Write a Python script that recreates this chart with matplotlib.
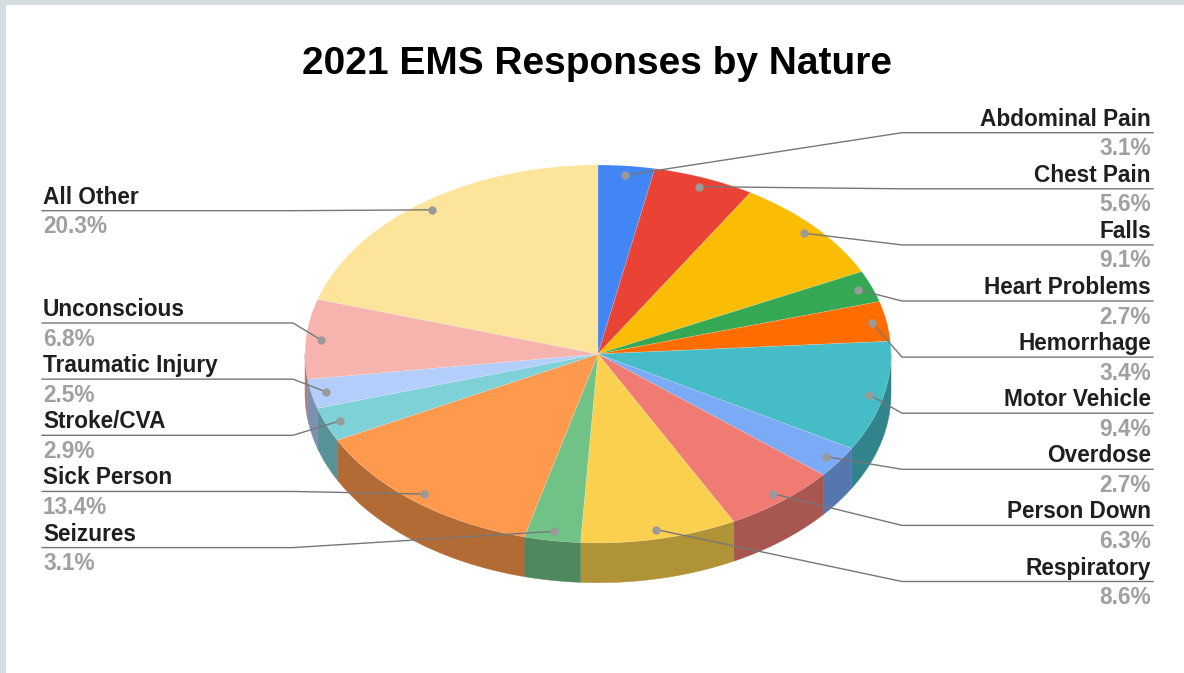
import numpy as np
import matplotlib.pyplot as plt
from matplotlib.patches import Polygon, Rectangle

# Data
labels = ["Abdominal Pain", "Chest Pain", "Falls", "Heart Problems", "Hemorrhage",
          "Motor Vehicle", "Overdose", "Person Down", "Respiratory", "Seizures",
          "Sick Person", "Stroke/CVA", "Traumatic Injury", "Unconscious", "All Other"]
shares = [3.1, 5.6, 9.1, 2.7, 3.4, 9.4, 2.7, 6.3, 8.6, 3.1, 13.4, 2.9, 2.5, 6.8, 20.3]
colors = ["#4285f4", "#ea4335", "#fbbc04", "#34a853", "#ff6d01", "#46bdc6", "#7baaf7",
          "#f07b72", "#fcd04f", "#71c287", "#ff994d", "#7ed1d7", "#b3cefb", "#f7b4ae",
          "#fde49b"]
# which side the label sits on, and its slot (row) on that side
right_side = labels[:9]
left_slots = {"All Other": 0, "Unconscious": 2, "Traumatic Injury": 3,
              "Stroke/CVA": 4, "Sick Person": 5, "Seizures": 6}

W, H = 1184, 673
cx, cy, rx, ry = 598, 354, 293, 189
depth = 0.21

plt.rcParams['font.family'] = ['Liberation Sans', 'DejaVu Sans']
fig = plt.figure(figsize=(W / 100, H / 100), dpi=100)
fig.patch.set_facecolor("#d6dde1")
fig.patches.append(Rectangle((6 / W, 0), 1, 1 - 5 / H, transform=fig.transFigure,
                             facecolor="white", edgecolor="none", zorder=-1))

# pie axes: one data unit = rx px horizontally, ry px vertically
pax = fig.add_axes([0, 0, 1, 1])
pax.patch.set_alpha(0)
wedges, _ = pax.pie(shares, colors=colors, startangle=90, counterclock=False,
                    radius=1, center=(0, 0),
                    wedgeprops=dict(edgecolor=(1, 1, 1, 0.18), linewidth=0.5))
pax.set_aspect("auto")
pax.set_xlim(-cx / rx, (W - cx) / rx)
pax.set_ylim((cy - H) / ry, cy / ry)
pax.axis("off")

# side walls for the front half
total = sum(shares)
edges = np.concatenate([[0], np.cumsum(shares)]) / total * 360
for i in range(len(shares)):
    a, b = max(edges[i], 90), min(edges[i + 1], 270)
    if b <= a:
        continue
    t = np.radians(np.linspace(a, b, 60))
    top = np.column_stack([np.sin(t), np.cos(t)])
    bot = np.column_stack([np.sin(t), np.cos(t) - depth])[::-1]
    dark = tuple(0.7 * c for c in plt.matplotlib.colors.to_rgb(colors[i]))
    pax.add_patch(Polygon(np.vstack([top, bot]), closed=True, facecolor=dark,
                          edgecolor=dark, lw=0.3, zorder=0.5))

# overlay axes in pixels for labels and leaders
ax = fig.add_axes([0, 0, 1, 1])
ax.patch.set_alpha(0)
ax.set_xlim(0, W)
ax.set_ylim(H, 0)
ax.axis("off")

ax.text(597, 74, "2021 EMS Responses by Nature", ha="center", va="baseline",
        fontsize=28, fontweight="bold", color="#000000")

mids = (edges[:-1] + edges[1:]) / 2
line_col = "#777777"
for i, name in enumerate(labels):
    th = np.radians(mids[i])
    dx = cx + 0.95 * rx * np.sin(th)
    dy = cy - 0.95 * ry * np.cos(th)
    if name in right_side:
        ly = 132.7 + 56.1 * right_side.index(name)
        ax.plot([dx, 902, 1153], [dy, ly, ly], color=line_col, lw=1.0, zorder=3)
        tx, ha = 1151, "right"
    else:
        ly = 210.7 + 56.15 * left_slots[name]
        ax.plot([42, 293, dx], [ly, ly, dy], color=line_col, lw=1.0, zorder=3)
        tx, ha = 43, "left"
    ax.plot(dx, dy, "o", ms=5, color="#9a9a9a", zorder=4)
    ax.text(tx, ly - 7, name, ha=ha, va="baseline", fontsize=16.3,
            fontweight="bold", color="#1f1f1f")
    ax.text(tx, ly + 22.5, f"{shares[i]:.1f}%", ha=ha, va="baseline",
            fontsize=16.3, fontweight="bold", color="#a0a0a0")

fig.savefig("out.png", dpi=100)
